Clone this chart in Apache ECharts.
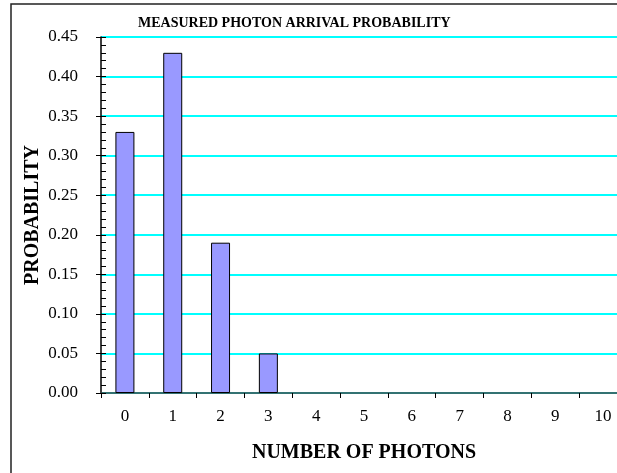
<!DOCTYPE html>
<html>
<head>
<meta charset="utf-8">
<script src="https://cdn.jsdelivr.net/npm/echarts@6/dist/echarts.min.js"></script>
<style>
html,body{margin:0;padding:0;background:#fff;overflow:hidden;}
#chart{width:640px;height:473px;}
</style>
</head>
<body>
<div id="chart"></div>
<script>
var categories = ['0','1','2','3','4','5','6','7','8','9','10'];
var probability = [0.33, 0.43, 0.19, 0.05, 0, 0, 0, 0, 0, 0, 0];
var titleText = 'MEASURED PHOTON ARRIVAL PROBABILITY';
var xName = 'NUMBER OF PHOTONS';
var yName = 'PROBABILITY';

var FONT = '"Liberation Serif", "Times New Roman", serif';
var barData = probability.map(function(v){
  return v === 0 ? {value: v, itemStyle: {borderWidth: 0}} : v;
});
var chart = echarts.init(document.getElementById('chart'), null, {renderer:'canvas'});
chart.setOption({
  backgroundColor: '#fff',
  animation: false,
  title: {
    text: titleText,
    left: 133, top: 11,
    textStyle: {fontFamily: FONT, fontWeight: 'bold', fontSize: 14, color: '#000'}
  },
  graphic: [{
    type: 'rect', silent: true, z: 0,
    shape: {x: 11, y: 4, width: 700, height: 600},
    style: {fill: 'none', stroke: '#222', lineWidth: 1.5}
  }],
  grid: {left: 101, top: 37, width: 526, height: 356},
  xAxis: {
    type: 'category',
    data: categories,
    boundaryGap: true,
    name: xName,
    nameLocation: 'middle',
    nameGap: 50,
    nameTextStyle: {fontFamily: FONT, fontWeight: 'bold', fontSize: 20, color: '#000'},
    axisLine: {lineStyle: {color: '#444', width: 1.5}},
    axisTick: {show: true, inside: false, length: 5, alignWithLabel: false, lineStyle: {color: '#000'}},
    axisLabel: {fontFamily: FONT, fontSize: 17, color: '#000', margin: 15, interval: 0},
    splitLine: {show: false}
  },
  yAxis: [{
    type: 'value',
    min: 0, max: 0.45, interval: 0.05,
    name: yName,
    nameLocation: 'middle',
    nameGap: 58,
    nameMoveOverlap: false,
    nameRotate: 90,
    nameTextStyle: {fontFamily: FONT, fontWeight: 'bold', fontSize: 20, color: '#000'},
    axisLine: {show: true, lineStyle: {color: '#000', width: 1.5}},
    axisTick: {show: true, inside: false, length: 5, lineStyle: {color: '#000'}},
    axisLabel: {fontFamily: FONT, fontSize: 17, color: '#000', margin: 23,
      formatter: function(v){ return v.toFixed(2); }},
    splitLine: {show: true, lineStyle: {color: '#00FFFF', width: 2}}
  }, {
    type: 'value',
    min: 0, max: 0.45, interval: 0.05,
    position: 'left',
    axisLine: {show: false},
    axisTick: {show: true, inside: true, length: 5, lineStyle: {color: '#000'}},
    minorTick: {show: true, splitNumber: 5, length: 5, lineStyle: {color: '#000'}},
    axisLabel: {show: false},
    splitLine: {show: false}
  }],
  series: [{
    type: 'bar',
    yAxisIndex: 0,
    data: barData,
    barWidth: 19,
    itemStyle: {color: '#9999FF', borderColor: '#000', borderWidth: 1}
  }]
});
</script>
</body>
</html>
